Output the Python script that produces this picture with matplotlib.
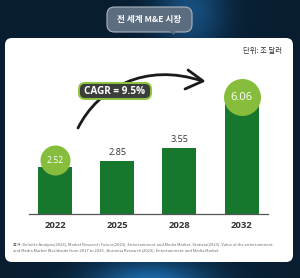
import numpy as np
import matplotlib
matplotlib.use("Agg")
import matplotlib.pyplot as plt
from matplotlib.patches import FancyBboxPatch, Polygon
from matplotlib.path import Path
from matplotlib.patches import PathPatch

plt.rcParams['font.family'] = ['Noto Sans CJK KR', 'DejaVu Sans']
NUMFONT = ['Open Sans', 'DejaVu Sans']

# ---- data ----
years = ["2022", "2025", "2028", "2032"]
values = [2.52, 2.85, 3.55, 6.06]
highlight = [True, False, False, True]
title = "전 세계 M&E 시장"
unit = "단위: 조 달러"
cagr_text = "CAGR = 9.5%"
source_lines = [
    "출처: Deloitte Analysis(2023), Market Research Future(2023), Entertainment and Media Market, Statista(2023), Value of the entertainment",
    "and Media Market Worldwide from 2017 to 2026 ; Business Research(2023), Entertainment and Media Market",
]

W, H = 300, 278
fig = plt.figure(figsize=(W / 100, H / 100), dpi=100)

# ---- background (pixel coords) ----
bg = fig.add_axes([0, 0, 1, 1])
bg.set_xlim(0, W)
bg.set_ylim(H, 0)
bg.axis('off')

yy, xx = np.mgrid[0:H, 0:W]
base = np.array([0x08, 0x1d, 0x30]) / 255.0
img = np.ones((H, W, 3)) * base
g1 = np.exp(-((xx - 190) / 35.0) ** 2 - ((yy - 10) / 45.0) ** 2)
g2 = np.exp(-((xx - 150) / 60.0) ** 2 - ((yy - 285) / 25.0) ** 2)
glow = np.array([0x1a, 0x5a, 0x90]) / 255.0
glow2 = np.array([0x1c, 0x6e, 0xb0]) / 255.0
img = img + (glow - base) * g1[..., None] * 0.8 + (glow2 - base) * g2[..., None]
img = np.clip(img, 0, 1)
bg.imshow(img, extent=[0, W, H, 0], aspect='auto', zorder=0)

# white panel
r = 7
panel = FancyBboxPatch((5 + r, 38 + r), 288 - 2 * r, 224 - 2 * r,
                       boxstyle=f"round,pad={r}", fc='white', ec='none', zorder=1)
bg.add_patch(panel)

# title pill
pill = FancyBboxPatch((113, 13), 73, 13, boxstyle="round,pad=6,rounding_size=7.5",
                      fc='#5b6d7f', ec='#a9b6c2', lw=0.8, zorder=2)
bg.add_patch(pill)
bg.add_patch(Polygon([[168, 30], [176, 30], [174, 35]], closed=True,
                     fc='#5b6d7f', ec='none', zorder=3))
bg.text(149.5, 19.5, title, color='white', fontsize=6.2, fontweight='bold',
        ha='center', va='center', zorder=4)

bg.text(282, 51, unit, color='#333333', fontsize=5.3, ha='right', va='center', zorder=4)

# curved arrow
verts = [(78, 128), (98, 88), (145, 62), (202, 81)]
codes = [Path.MOVETO, Path.CURVE4, Path.CURVE4, Path.CURVE4]
bg.add_patch(PathPatch(Path(verts, codes), fc='none', ec='#1a1a1a', lw=2.0,
                       capstyle='round', zorder=3))
bg.plot([188, 203, 185], [70, 81, 89], color='#1a1a1a', lw=2.0,
        solid_capstyle='round', solid_joinstyle='round', zorder=3)

# CAGR pill
cp = FancyBboxPatch((82, 86), 66, 10, boxstyle="round,pad=3,rounding_size=6",
                    fc='#3b3e3b', ec='#8cc63f', lw=1.4, zorder=5)
bg.add_patch(cp)
bg.text(115, 91.2, cagr_text, color='white', fontsize=7.2, fontweight='bold',
        ha='center', va='center', zorder=6, family=NUMFONT)

# source
for i, line in enumerate(source_lines):
    bg.text(13, 245 + i * 5, line, color='#6a6a6a', fontsize=2.95,
            ha='left', va='center', zorder=4)

# ---- bar chart axes ----
px_per_unit = 18.6
x0, x1 = 29, 268
base_y, top_y = 214, 60
ax = fig.add_axes([x0 / W, (H - base_y) / H, (x1 - x0) / W, (base_y - top_y) / H])
ax.patch.set_alpha(0)
spacing = 62.2
xpos = np.arange(len(years))
ax.set_xlim(-(55 - x0) / spacing, 3 + (x1 - 241.5) / spacing)
ax.set_ylim(0, (base_y - top_y) / px_per_unit)
ax.bar(xpos, values, width=34 / spacing, color='#17782d', zorder=2)
for s in ['top', 'right', 'left']:
    ax.spines[s].set_visible(False)
ax.spines['bottom'].set_color('#555555')
ax.spines['bottom'].set_linewidth(0.9)
ax.set_yticks([])
ax.set_xticks(xpos)
ax.set_xticklabels(years, fontsize=6.8, fontweight='bold', color='#333333',
                   family=NUMFONT)
ax.tick_params(axis='x', length=0, pad=5)

for i, (v, h) in enumerate(zip(values, highlight)):
    if h:
        big = v > 5
        rad = 18.5 if big else 15
        cy = v + (4 if big else 7) / px_per_unit
        ax.scatter([i], [cy], s=(2 * rad * 0.72) ** 2, color='#86bd3c', zorder=3,
                   clip_on=False, linewidths=0)
        ax.text(i, cy, f"{v:.2f}", color='white', fontsize=8.0 if big else 6.2,
                ha='center', va='center', zorder=4, family=NUMFONT)
    else:
        ax.text(i, v + 8 / px_per_unit, f"{v:.2f}", color='#333333', fontsize=6.6,
                ha='center', va='center', zorder=4, family=NUMFONT)

fig.savefig("out.png", dpi=100)
